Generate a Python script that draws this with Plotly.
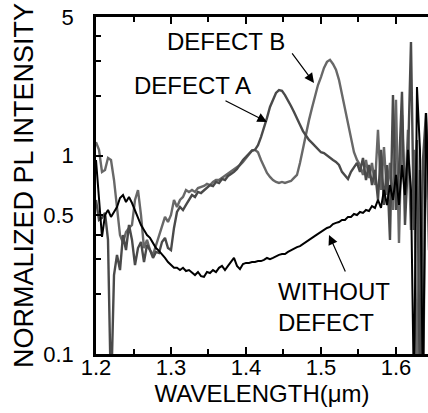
import plotly.graph_objects as go

# Wavelength grid (um), 0.004 um spacing
wavelength = [round(1.200 + 0.004 * i, 3) for i in range(112)]

defect_b = [1.17, 1.07, 0.828, 0.847, 0.974, 0.951, 0.754, 0.532, 0.398, 0.363,
            0.412, 0.432, 0.447, 0.598, 0.671, 0.502, 0.342, 0.376, 0.334, 0.316,
            0.355, 0.394, 0.437, 0.491, 0.463, 0.502, 0.598, 0.551, 0.598, 0.619,
            0.671, 0.656, 0.671, 0.656, 0.687, 0.695, 0.703, 0.720, 0.711, 0.737,
            0.754, 0.754, 0.772, 0.790, 0.809, 0.828, 0.847, 0.867, 0.897, 0.930,
            0.974, 1.01, 1.06, 1.07, 1.04, 0.951, 0.877, 0.818, 0.781, 0.754,
            0.737, 0.728, 0.737, 0.728, 0.737, 0.745, 0.772, 0.799, 0.919, 1.09,
            1.30, 1.51, 1.74, 2.00, 2.27, 2.49, 2.77, 2.97, 3.04, 2.90,
            2.71, 2.41, 2.02, 1.70, 1.48, 1.20, 1.04, 0.951, 0.897, 0.799,
            0.951, 0.772, 0.919, 0.711, 1.35, 0.671, 1.106, 0.633, 0.919, 0.532,
            1.91, 0.363, 1.60, 0.598, 1.35, 0.422, 1.07, 0.06, 0.847, 0.06,
            1.35, 0.334]

defect_a = [0.598, 0.474, 0.485, 0.514, 0.376, 0.06, 0.250, 0.316, 0.265, 0.398,
            0.334, 0.447, 0.376, 0.281, 0.342, 0.367, 0.291, 0.355, 0.334, 0.305,
            0.327, 0.323, 0.367, 0.385, 0.342, 0.334, 0.432, 0.520, 0.551, 0.532,
            0.564, 0.598, 0.633, 0.619, 0.656, 0.648, 0.671, 0.687, 0.711, 0.703,
            0.737, 0.728, 0.763, 0.754, 0.790, 0.809, 0.828, 0.857, 0.908, 0.951,
            0.985, 1.02, 1.06, 1.07, 1.13, 1.24, 1.38, 1.55, 1.76, 1.93,
            2.07, 2.14, 2.12, 2.02, 1.91, 1.78, 1.66, 1.53, 1.43, 1.33,
            1.26, 1.20, 1.16, 1.12, 1.08, 1.04, 1.03, 1.00, 0.974, 0.951,
            0.930, 0.897, 0.828, 0.790, 0.763, 0.828, 0.867, 0.919, 0.828, 0.974,
            0.754, 0.897, 0.711, 0.847, 0.598, 1.07, 0.564, 0.897, 0.376, 2.02,
            0.532, 0.847, 2.10, 0.447, 0.951, 3.74, 0.422, 1.20, 0.06, 0.951,
            1.64, 0.598]

without_defect = [0.950, 0.577, 0.389, 0.502, 0.532, 0.491, 0.520, 0.551, 0.612, 0.633,
                  0.584, 0.619, 0.577, 0.532, 0.485, 0.447, 0.422, 0.398, 0.385, 0.363,
                  0.342, 0.331, 0.319, 0.305, 0.291, 0.281, 0.272, 0.272, 0.265, 0.272,
                  0.262, 0.265, 0.256, 0.250, 0.259, 0.247, 0.245, 0.259, 0.256, 0.265,
                  0.259, 0.272, 0.278, 0.265, 0.278, 0.291, 0.305, 0.278, 0.268, 0.284,
                  0.288, 0.288, 0.291, 0.291, 0.294, 0.294, 0.298, 0.305, 0.301, 0.305,
                  0.312, 0.316, 0.319, 0.319, 0.327, 0.334, 0.338, 0.346, 0.350, 0.359,
                  0.367, 0.376, 0.385, 0.394, 0.403, 0.412, 0.422, 0.432, 0.437, 0.452,
                  0.458, 0.463, 0.474, 0.474, 0.491, 0.491, 0.508, 0.502, 0.520, 0.514,
                  0.532, 0.526, 0.557, 0.545, 0.598, 0.545, 0.671, 0.564, 0.711, 0.598,
                  0.799, 0.564, 0.897, 0.633, 1.07, 0.671, 0.06, 2.22, 1.07, 0.06,
                  1.64, 0.598]

x_tick_vals = [1.2, 1.3, 1.4, 1.5, 1.6]
x_tick_text = ["1.2", "1.3", "1.4", "1.5", "1.6"]
y_tick_vals = [0.1, 0.5, 1, 5]
y_tick_text = ["0.1", "0.5", "1", "5"]
y_minor_vals = [0.2, 0.3, 0.4, 2, 3, 4]

FONT = "Liberation Sans, Arial, sans-serif"

fig = go.Figure()
fig.add_trace(go.Scatter(x=wavelength, y=defect_b, mode="lines", name="DEFECT B",
                         line=dict(color="#686868", width=2.4)))
fig.add_trace(go.Scatter(x=wavelength, y=defect_a, mode="lines", name="DEFECT A",
                         line=dict(color="#4a4a4a", width=2.4)))
fig.add_trace(go.Scatter(x=wavelength, y=without_defect, mode="lines", name="WITHOUT DEFECT",
                         line=dict(color="#000000", width=2.0)))

fig.update_layout(
    width=428, height=413,
    margin=dict(l=96, r=0, t=17, b=59, pad=0),
    paper_bgcolor="white", plot_bgcolor="white",
    showlegend=False,
    font=dict(family=FONT, color="black", size=22),
)

fig.update_xaxes(
    range=[1.2, 1.6427], showgrid=False, zeroline=False, automargin=False,
    showline=True, linecolor="black", linewidth=2.5, mirror="ticks",
    ticks="inside", ticklen=7, tickwidth=2, tickcolor="black",
    tickvals=x_tick_vals, ticktext=x_tick_text,
    tickfont=dict(size=22, family=FONT), ticklabelstandoff=-8,
    minor=dict(tickvals=[1.25, 1.35, 1.45, 1.55], ticks="inside", ticklen=5,
               tickwidth=2, tickcolor="black", showgrid=False),
    title=dict(text="WAVELENGTH(μm)", font=dict(size=24, family=FONT), standoff=2),
)
fig.update_yaxes(
    type="log", range=[-1, 0.69897], showgrid=False, zeroline=False, automargin=False,
    showline=True, linecolor="black", linewidth=2.5, mirror=False,
    ticks="inside", ticklen=7, tickwidth=2, tickcolor="black",
    tickvals=y_tick_vals, ticktext=y_tick_text,
    tickfont=dict(size=22, family=FONT), ticklabelstandoff=15,
    minor=dict(tickvals=y_minor_vals, ticks="inside", ticklen=5,
               tickwidth=2, tickcolor="black", showgrid=False),
    title=dict(text="NORMALIZED PL INTENSITY", font=dict(size=27, family=FONT), standoff=2),
)

text_font = dict(size=24, family=FONT, color="black")
fig.add_annotation(text="DEFECT B", xref="paper", yref="paper", x=0.393, y=0.927,
                   xanchor="center", yanchor="middle", showarrow=False, font=text_font)
fig.add_annotation(text="DEFECT A", xref="paper", yref="paper", x=0.292, y=0.798,
                   xanchor="center", yanchor="middle", showarrow=False, font=text_font)
fig.add_annotation(text="WITHOUT<br>DEFECT", xref="paper", yref="paper", x=0.542, y=0.139,
                   xanchor="left", yanchor="middle", align="left", showarrow=False,
                   font=text_font)

arrow_style = dict(showarrow=True, arrowhead=2, arrowsize=1.6, arrowwidth=1.2,
                   arrowcolor="black", text="", xref="x", yref="y")
fig.add_annotation(x=1.4907, y=0.3666, ax=-23, ay=-31, **arrow_style)
fig.add_annotation(x=1.428, y=0.170, ax=-43, ay=-22, **arrow_style)
fig.add_annotation(x=1.5107, y=-0.3999, ax=17, ay=38, **arrow_style)

fig.write_html("out.html")
